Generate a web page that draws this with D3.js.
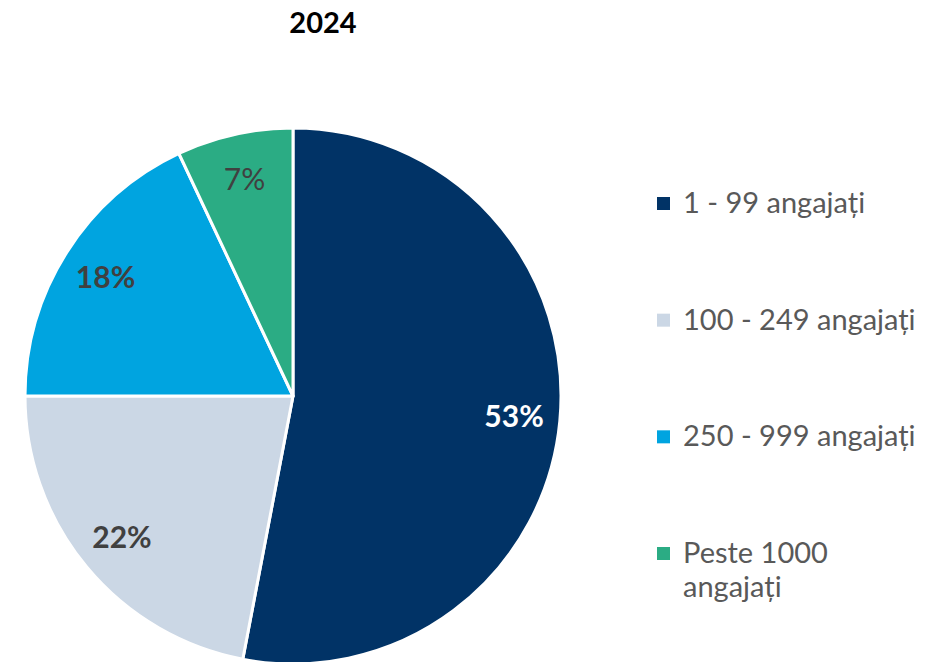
<!DOCTYPE html>
<head>
<meta charset="utf-8">
<title>2024</title>
<style>
	body { margin:0; background:#ffffff; font-family: "Lato", "Open Sans", sans-serif; }
	svg { display:block; }
	.title { font-weight:bold; font-size:29px; fill:#000000; }
	.lbl { font-size:30px; fill:#404040; }
	.legend text { font-size:29px; fill:#595959; }
</style>
</head>
<body>
<script src="https://d3js.org/d3.v7.min.js"></script>
<script>
	var width = 925;
	var height = 662;

	// date din grafic
	var categories = ["1 - 99 angajați", "100 - 249 angajați", "250 - 999 angajați", "Peste 1000 angajați"];
	var values = [53, 22, 18, 7];
	var colors = ["#013366", "#cbd7e5", "#00a4e0", "#2bac84"];
	var labelColors = ["#ffffff", "#404040", "#404040", "#404040"];
	var labelBold = [true, true, true, false];

	var data = categories.map(function(c, i) { return {name: c, value: values[i], i: i}; });

	var svg = d3.select("body").append("svg")
		.attr("width", width)
		.attr("height", height);

	svg.append("text")
		.attr("class", "title")
		.attr("x", 323)
		.attr("y", 33)
		.attr("text-anchor", "middle")
		.text("2024");

	var radius = 268;
	var g = svg.append("g").attr("transform", "translate(293,396)");

	var pie = d3.pie().sort(null).value(function(d) { return d.value; });
	var arc = d3.arc().innerRadius(0).outerRadius(radius);
	var labelArc = d3.arc().innerRadius(222).outerRadius(222);

	var arcs = pie(data);

	g.selectAll("path")
		.data(arcs)
		.enter().append("path")
		.attr("d", arc)
		.attr("fill", function(d) { return colors[d.data.i]; })
		.attr("stroke", "#ffffff")
		.attr("stroke-width", 3)
		.attr("stroke-linejoin", "round");

	g.selectAll("text.lbl")
		.data(arcs)
		.enter().append("text")
		.attr("class", "lbl")
		.attr("transform", function(d) { return "translate(" + labelArc.centroid(d) + ")"; })
		.attr("text-anchor", "middle")
		.attr("dy", "0.35em")
		.style("fill", function(d) { return labelColors[d.data.i]; })
		.style("font-weight", function(d) { return labelBold[d.data.i] ? "bold" : "normal"; })
		.text(function(d) { return d.data.value + "%"; });

	// legenda
	var legend = svg.append("g").attr("class", "legend").attr("transform", "translate(657,0)");
	var rowY = d3.scalePoint().domain(categories).range([203, 553]);

	var item = legend.selectAll("g")
		.data(data)
		.enter().append("g")
		.attr("transform", function(d) { return "translate(0," + rowY(d.name) + ")"; });

	item.append("rect")
		.attr("x", 0)
		.attr("y", -6)
		.attr("width", 13)
		.attr("height", 13)
		.attr("fill", function(d) { return colors[d.i]; });

	item.append("text")
		.attr("x", 26)
		.each(function(d) {
			var t = d3.select(this);
			var parts = d.name === "Peste 1000 angajați" ? ["Peste 1000", "angajați"] : [d.name];
			parts.forEach(function(p, k) {
				t.append("tspan")
					.attr("x", 26)
					.attr("dy", k === 0 ? "0.35em" : "1.18em")
					.text(p);
			});
		});
</script>
</body>
